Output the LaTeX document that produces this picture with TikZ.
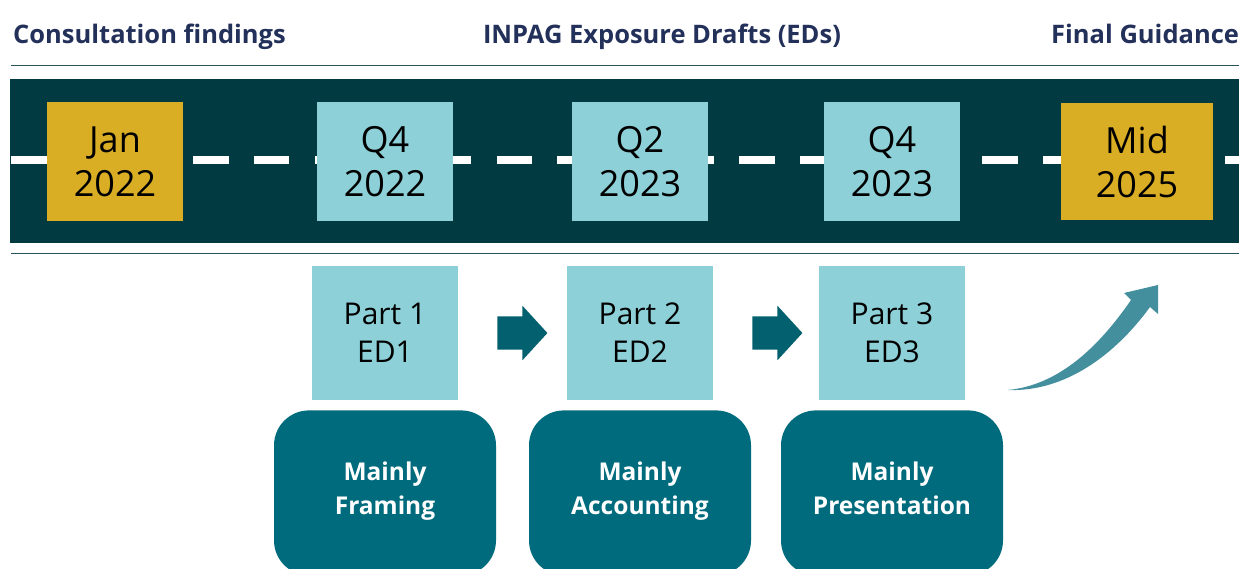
\documentclass[tikz,border=0pt]{standalone}
\usepackage{fontspec}
\setmainfont{Open Sans}
\usetikzlibrary{positioning,shapes.arrows}

\definecolor{headnavy}{RGB}{35,49,90}
\definecolor{roadband}{RGB}{2,58,66}
\definecolor{ruleteal}{RGB}{40,82,92}
\definecolor{gold}{RGB}{217,173,36}
\definecolor{paleteal}{RGB}{141,208,216}
\definecolor{darkteal}{RGB}{0,107,124}
\definecolor{arrowteal}{RGB}{3,96,110}
\definecolor{swooshteal}{RGB}{67,143,157}

\tikzset{
  heading/.style={font={\fontsize{25.5}{30}\selectfont\bfseries}, text=headnavy, inner sep=0pt},
  datebox/.style={minimum width=136pt, minimum height=119pt, inner sep=0pt,
    align=center, font={\fontsize{36}{44}\selectfont}},
  partbox/.style={fill=paleteal, minimum width=146pt, minimum height=134pt, inner sep=0pt,
    align=center, font={\fontsize{30}{38}\selectfont}},
  focusbox/.style={fill=darkteal, rounded corners=35pt, minimum width=222pt, minimum height=165pt,
    inner sep=0pt, align=center, text=white, font={\fontsize{24.5}{34}\selectfont\bfseries},
    execute at end node=\strut},
  stepper/.style={single arrow, fill=arrowteal, minimum height=50pt,
    single arrow head extend=10.5pt, single arrow head indent=0pt, single arrow tip angle=95,
    inner xsep=0pt, inner ysep=16.5pt}
}

\begin{document}
\begin{tikzpicture}[x=1pt,y=-1pt]
  \useasboundingbox (0,0) rectangle (1239,568);
  % Ueberschriften
  \node[heading, anchor=base west] (hcons) at (13,43) {Consultation findings};
  \node[heading, anchor=base] (heds) at (662,43) {INPAG Exposure Drafts (EDs)};
  \node[heading, anchor=base west] (hfinal) at (1051,43) {Final Guidance};
  % Linien und Band
  \draw[ruleteal, line width=1.5pt] (11,65.5) -- (1239,65.5);
  \draw[ruleteal, line width=1.5pt] (11,253.5) -- (1239,253.5);
  \fill[roadband] (10,79) rectangle (1239,243);
  \coordinate (roadL) at (11,160);
  \coordinate (roadR) at (1239,160);
  \draw[white, line width=8pt, dash pattern=on 35.5pt off 25.2pt] (roadL) -- (roadR);
  % Zeitpunkte
  \node[datebox, fill=gold] (jan) at (115,161.5) {Jan\\2022};
  \node[datebox, fill=paleteal] (q4a) at (385,161.5) {Q4\\2022};
  \node[datebox, fill=paleteal] (q2) at (640,161.5) {Q2\\2023};
  \node[datebox, fill=paleteal] (q4b) at (892,161.5) {Q4\\2023};
  \node[datebox, fill=gold, minimum width=152pt, minimum height=117pt] (mid) at (1137,161.5) {Mid\\2025};
  % Entwuerfe
  \node[partbox] (ed1) at (385,333) {Part 1\\ED1};
  \node[partbox] (ed2) at (640,333) {Part 2\\ED2};
  \node[partbox] (ed3) at (892,333) {Part 3\\ED3};
  \node[stepper, right=39pt of ed1] (go12) {};
  \node[stepper, right=39pt of ed2] (go23) {};
  % Schwerpunkte
  \node[focusbox, below=10pt of ed1] (framing) {Mainly\\Framing};
  \node[focusbox, below=10pt of ed2] (accounting) {Mainly\\Accounting};
  \node[focusbox, below=10pt of ed3] (presentation) {Mainly\\Presentation};
  % Schwung nach oben
  \coordinate (swtail) at (1008,390);
  \coordinate (swtip) at (1158,285);
  \fill[swooshteal] (swtail) .. controls (1060,385) and (1100,345) .. (1131,300)
    -- (1124,293) -- (swtip) -- (1158,314) -- (1150,307)
    .. controls (1115,355) and (1065,392) .. (swtail) -- cycle;
\end{tikzpicture}
\end{document}
